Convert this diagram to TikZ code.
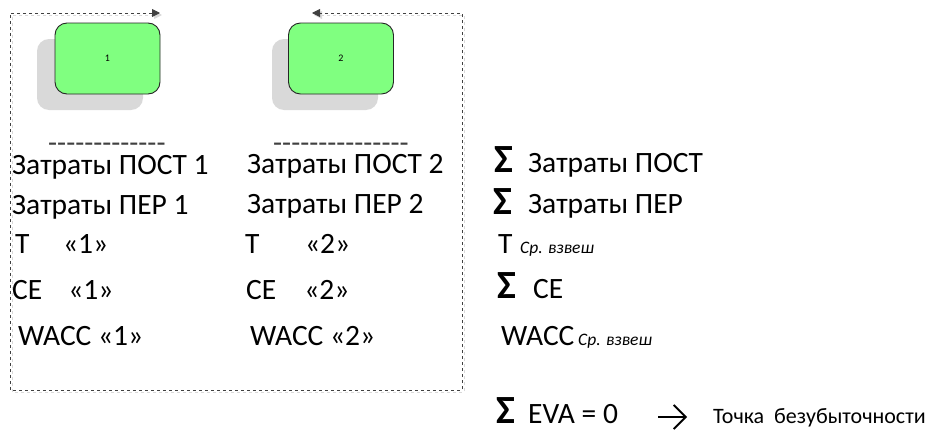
\documentclass[tikz,border=0pt]{standalone}
\usepackage{fontspec}
\setmainfont{Carlito}
\usetikzlibrary{arrows.meta}
\definecolor{boxgreen}{HTML}{80FF80}
\definecolor{shadowgray}{HTML}{D9D9D9}
\definecolor{framegray}{HTML}{404040}
% a row of plain hyphens, kept apart so they do not merge into dashes
\newcommand\hyphenrow[1]{\foreach \k in {1,...,#1}{-\kern0pt}}
\tikzset{
  lbl/.style={anchor=base west, inner sep=0pt, font=\fontsize{29.5}{31}\selectfont},
  sig/.style={anchor=base west, inner sep=0pt, font=\bfseries\fontsize{40}{40}\selectfont},
  sub/.style={anchor=base west, inner sep=0pt, font=\itshape\fontsize{17.5}{18}\selectfont},
  note/.style={anchor=base west, inner sep=0pt, font=\fontsize{22}{24}\selectfont},
  rule/.style={anchor=base west, inner sep=0pt, text depth=0pt, text height=12pt,
    text=black!75, font=\fontsize{29.5}{31}\selectfont},
  unit/.style={draw=black!85, line width=0.9pt, fill=boxgreen, rounded corners=12pt,
    minimum width=105pt, minimum height=71pt, font=\fontsize{10}{12}\selectfont},
  unitshadow/.style={fill=shadowgray, rounded corners=12pt, minimum width=106pt, minimum height=71pt},
  loop/.style={draw=framegray, line width=0.9pt, dashed, {Triangle[length=8pt,width=8pt]}-{Triangle[length=8pt,width=8pt]}},
  loopshadow/.style={draw=shadowgray, line width=0.9pt, dashed, {Triangle[length=8pt,width=8pt]}-{Triangle[length=8pt,width=8pt]}},
  link/.style={draw=black, line width=1.8pt, -{Straight Barb[length=12pt,width=24pt]}}
}
\begin{document}
\begin{tikzpicture}[x=1pt,y=-1pt]
\useasboundingbox (0,0) rectangle (930,439);

% business units with soft drop shadows
\node[unitshadow] at (90,74.5) {};
\node[unitshadow] at (325,74.5) {};
\node[unit] (u1) at (107.5,58.5) {1};
\node[unit] (u2) at (341,58.5) {2};

% dashed loop around both units
\coordinate (l1) at (160,13);
\coordinate (l2) at (312,13);
\begin{scope}[shift={(2,2)}]
  \draw[loopshadow] (160,13) -- (10,13) -- (10,390) -- (462,390) -- (462,13) -- (312,13);
\end{scope}
\draw[loop] (l1) -- (10,13) -- (10,390) -- (462,390) -- (462,13) -- (l2);

% unit 1 figures
\node[rule] (r1) at (48,152) {\hyphenrow{13}};
\node[lbl] (p1) at (12,174) {Затраты ПОСТ 1};
\node[lbl] (v1) at (12,214) {Затраты ПЕР 1};
\node[lbl] (t1) at (15,253) {Т\hspace{33.6pt}«1»};
\node[lbl] (c1) at (12,299) {CE\hspace{26pt}«1»};
\node[lbl] (w1) at (18,345) {WACC «1»};

% unit 2 figures
\node[rule] (r2) at (273,152) {\hyphenrow{15}};
\node[lbl] (p2) at (247,173) {Затраты ПОСТ 2};
\node[lbl] (v2) at (247,213) {Затраты ПЕР 2};
\node[lbl] (t2) at (245,253) {Т\hspace{45.6pt}«2»};
\node[lbl] (c2) at (246,299) {CE\hspace{28pt}«2»};
\node[lbl] (w2) at (250,345) {WACC «2»};

% consolidated figures
\node[sig] (sp) at (494,172) {Σ};
\node[lbl] (tp) at (528,172) {Затраты ПОСТ};
\node[sig] (sv) at (493,214) {Σ};
\node[lbl] (tv) at (528,213) {Затраты ПЕР};
\node[lbl] (tt) at (498,253) {Т};
\node[sub] (tts) at (520,253) {Ср. взвеш};
\node[sig] (sc) at (497,298) {Σ};
\node[lbl] (tc) at (533,298) {CE};
\node[lbl] (tw) at (501,345) {WACC};
\node[sub] (tws) at (578,345) {Ср. взвеш};

% break-even condition
\node[sig] (se) at (496,423) {Σ};
\node[lbl] (eva) at (528,423) {EVA = 0};
\node[note] (be) at (713,423) {Точка\ \ безубыточности};
\draw[link] (658,417) -- (687,417);
\end{tikzpicture}
\end{document}
